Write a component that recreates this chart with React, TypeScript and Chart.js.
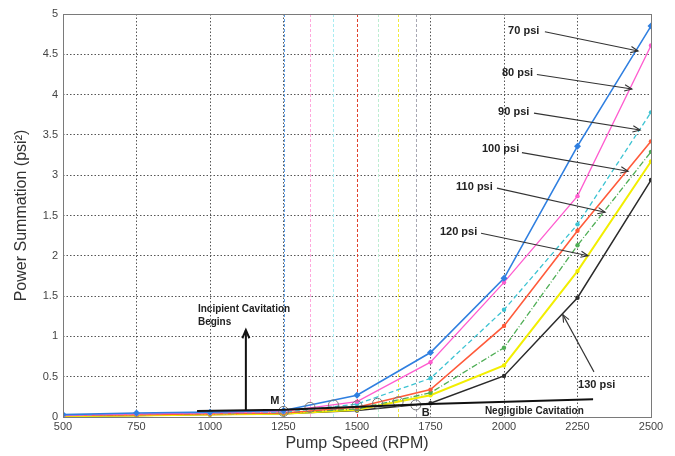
import React, { useEffect, useRef } from "react";
import { Chart, registerables } from "chart.js";

Chart.register(...registerables);

// ---------- data ----------
const rpm = [500, 750, 1000, 1250, 1500, 1750, 2000, 2250, 2500];
const psi70 = [0.03, 0.05, 0.06, 0.08, 0.27, 0.8, 1.72, 3.36, 4.85];
const psi80 = [0.02, 0.04, 0.05, 0.07, 0.19, 0.68, 1.67, 2.74, 4.61];
const psi90 = [0.02, 0.04, 0.05, 0.06, 0.16, 0.48, 1.33, 2.39, 3.78];
const psi100 = [0.02, 0.03, 0.04, 0.05, 0.12, 0.34, 1.13, 2.31, 3.42];
const psi110 = [0.02, 0.03, 0.04, 0.05, 0.1, 0.3, 0.86, 2.13, 3.29];
const psi120 = [0.01, 0.02, 0.03, 0.04, 0.09, 0.27, 0.64, 1.81, 3.17];
const psi130 = [0.01, 0.02, 0.03, 0.04, 0.08, 0.17, 0.51, 1.48, 2.94];

const xTicks = [500, 750, 1000, 1250, 1500, 1750, 2000, 2250, 2500];
const yTickValues = [0, 0.5, 1, 1.5, 2, 2.5, 3, 3.5, 4, 4.5, 5];
const yTickLabels = ["0", "0.5", "1", "1.5", "2", "1.5", "3", "3.5", "4", "4.5", "5"];

// onset (incipient cavitation) speeds and their marker values
const onsetRpm = [1250, 1340, 1420, 1500, 1570, 1640, 1700];
const onsetVal = [0.07, 0.12, 0.15, 0.14, 0.17, 0.19, 0.15];
const onsetColors = ["#5f9fe6", "#ffa8dc", "#a8ecf2", "#e0402a", "#bdeed2", "#f2ec40", "#a8a8b4"];

// series labels with arrows
const seriesLabels = ["70 psi", "80 psi", "90 psi", "100 psi", "110 psi", "120 psi", "130 psi"];
const labelTextX = [2014, 1993, 1980, 1925, 1837, 1782, 2252];
const labelTextY = [4.79, 4.27, 3.78, 3.32, 2.86, 2.29, 0.4];
const arrowStartX = [2139, 2112, 2102, 2061, 1976, 1922, 2306];
const arrowStartY = [4.78, 4.25, 3.77, 3.28, 2.84, 2.28, 0.56];
const arrowTipX = [2456, 2435, 2463, 2422, 2344, 2286, 2200];
const arrowTipY = [4.54, 4.07, 3.56, 3.05, 2.54, 2.0, 1.27];

// cavitation annotation line
const boundaryX = [956, 1248, 1748, 2303];
const boundaryY = [0.075, 0.09, 0.16, 0.22];

const seriesColors = ["#2f7fe0", "#ff5ccf", "#3cc3d2", "#ff5a3a", "#4fae55", "#f2ee00", "#2a2a2a"];
const seriesDash = [[], [], [5, 3], [], [6, 2, 1, 2], [], []];
const seriesWidth = [1.6, 1.3, 1.3, 1.6, 1.3, 2, 1.5];
const seriesData = [psi70, psi80, psi90, psi100, psi110, psi120, psi130];

const FONT = "'Liberation Sans', Arial, sans-serif";

const annotationPlugin = {
  id: "annots",
  beforeDatasetsDraw(chart: any) {
    const { ctx, chartArea, scales } = chart;
    const xs = scales.x;
    ctx.save();
    ctx.lineWidth = 1;
    onsetRpm.forEach((r, i) => {
      const px = Math.round(xs.getPixelForValue(r)) + 0.5;
      ctx.setLineDash([]);
      ctx.strokeStyle = "#fff";
      ctx.beginPath();
      ctx.moveTo(px, chartArea.top + 1);
      ctx.lineTo(px, chartArea.bottom - 1);
      ctx.stroke();
      ctx.setLineDash([3, 2]);
      ctx.strokeStyle = onsetColors[i];
      ctx.beginPath();
      ctx.moveTo(px, chartArea.top);
      ctx.lineTo(px, chartArea.bottom);
      ctx.stroke();
    });
    ctx.restore();
  },
  afterDatasetsDraw(chart: any) {
    const { ctx, chartArea, scales } = chart;
    const xs = scales.x;
    const ys = scales.y;
    const X = (v: number) => xs.getPixelForValue(v);
    const Y = (v: number) => ys.getPixelForValue(v);
    ctx.save();

    // frame
    ctx.strokeStyle = "#7a7a7a";
    ctx.lineWidth = 1;
    ctx.setLineDash([]);
    ctx.strokeRect(
      Math.round(chartArea.left) + 0.5,
      Math.round(chartArea.top) + 0.5,
      Math.round(chartArea.right - chartArea.left),
      Math.round(chartArea.bottom - chartArea.top)
    );

    // onset circles
    ctx.strokeStyle = "#777";
    ctx.lineWidth = 1;
    onsetRpm.forEach((r, i) => {
      ctx.beginPath();
      ctx.arc(X(r), Y(onsetVal[i]), 5, 0, Math.PI * 2);
      ctx.stroke();
    });

    // cavitation boundary line
    ctx.strokeStyle = "#111";
    ctx.lineWidth = 2;
    ctx.beginPath();
    boundaryX.forEach((bx, i) => {
      if (i === 0) ctx.moveTo(X(bx), Y(boundaryY[i]));
      else ctx.lineTo(X(bx), Y(boundaryY[i]));
    });
    ctx.stroke();

    const arrow = (x1: number, y1: number, x2: number, y2: number, head: number, w: number) => {
      ctx.lineWidth = w;
      ctx.beginPath();
      ctx.moveTo(x1, y1);
      ctx.lineTo(x2, y2);
      ctx.stroke();
      const a = Math.atan2(y2 - y1, x2 - x1);
      ctx.beginPath();
      ctx.moveTo(x2 - head * Math.cos(a - 0.4), y2 - head * Math.sin(a - 0.4));
      ctx.lineTo(x2, y2);
      ctx.lineTo(x2 - head * Math.cos(a + 0.4), y2 - head * Math.sin(a + 0.4));
      ctx.stroke();
    };

    // incipient arrow
    ctx.strokeStyle = "#111";
    arrow(X(1122), Y(0.075), X(1122), Y(1.08), 9, 2);

    // series label arrows
    ctx.strokeStyle = "#333";
    seriesLabels.forEach((_, i) => {
      arrow(X(arrowStartX[i]), Y(arrowStartY[i]), X(arrowTipX[i]), Y(arrowTipY[i]), 8, 1.1);
    });

    // texts
    ctx.fillStyle = "#222";
    ctx.font = `bold 11px ${FONT}`;
    ctx.textBaseline = "middle";
    ctx.textAlign = "left";
    seriesLabels.forEach((t, i) => {
      ctx.fillText(t, X(labelTextX[i]), Y(labelTextY[i]));
    });
    ctx.font = `bold 10px ${FONT}`;
    ctx.fillText("Incipient Cavitation", X(959), Y(1.34));
    ctx.fillText("Begins", X(959), Y(1.17));
    ctx.fillText("Negligible Cavitation", X(1935), Y(0.075));
    ctx.font = `bold 11px ${FONT}`;
    ctx.fillText("M", X(1205), Y(0.2));
    ctx.fillText("B", X(1720), Y(0.05));
    ctx.restore();
  },
};

export default function App() {
  const ref = useRef<HTMLCanvasElement | null>(null);
  useEffect(() => {
    if (!ref.current) return;
    const datasets = seriesData.map((vals, i) => ({
      label: seriesLabels[i],
      data: vals.map((v, j) => ({ x: rpm[j], y: v })),
      borderColor: seriesColors[i],
      backgroundColor: seriesColors[i],
      borderWidth: seriesWidth[i],
      borderDash: seriesDash[i],
      pointRadius: i === 0 ? 3.5 : 2.2,
      pointStyle: i === 0 ? "rectRot" : "circle",
      pointBorderWidth: 0,
      tension: 0,
    }));
    const chart = new Chart(ref.current, {
      type: "line",
      data: { datasets },
      plugins: [annotationPlugin],
      options: {
        responsive: false,
        animation: false,
        layout: { padding: { left: 0, right: 24, top: 14, bottom: 0 } },
        plugins: { legend: { display: false }, tooltip: { enabled: false } },
        scales: {
          x: {
            type: "linear",
            min: 500,
            max: 2500,
            afterFit: (s: any) => {
              s.height = 39;
            },
            afterBuildTicks: (s: any) => {
              s.ticks = xTicks.map((v) => ({ value: v }));
            },
            ticks: {
              color: "#444",
              font: { family: FONT, size: 11 },
              padding: 3,
              maxRotation: 0,
              callback: (v: any) => String(v),
            },
            grid: { color: "#555", lineWidth: 1, drawTicks: false },
            border: { display: false, dash: [1.5, 2] },
            title: {
              display: true,
              text: "Pump Speed (RPM)",
              color: "#333",
              font: { family: FONT, size: 16 },
              padding: { top: 0, bottom: 3 },
            },
          },
          y: {
            type: "linear",
            min: 0,
            max: 5,
            afterFit: (s: any) => {
              s.width = 63;
            },
            afterBuildTicks: (s: any) => {
              s.ticks = yTickValues.map((v) => ({ value: v }));
            },
            ticks: {
              color: "#444",
              font: { family: FONT, size: 11 },
              padding: 5,
              callback: (v: any) => {
                const idx = yTickValues.indexOf(Number(v));
                return idx >= 0 ? yTickLabels[idx] : "";
              },
            },
            grid: { color: "#555", lineWidth: 1, drawTicks: false },
            border: { display: false, dash: [1.5, 2] },
            title: {
              display: true,
              text: "Power Summation (psi²)",
              color: "#333",
              font: { family: FONT, size: 16 },
              padding: { top: 12, bottom: 0 },
            },
          },
        },
      } as any,
    });
    return () => chart.destroy();
  }, []);
  return (
    <div style={{ position: "fixed", left: 0, top: 0, width: 675, height: 456, background: "#fff" }}>
      <canvas ref={ref} width={675} height={456} style={{ display: "block" }} />
    </div>
  );
}
